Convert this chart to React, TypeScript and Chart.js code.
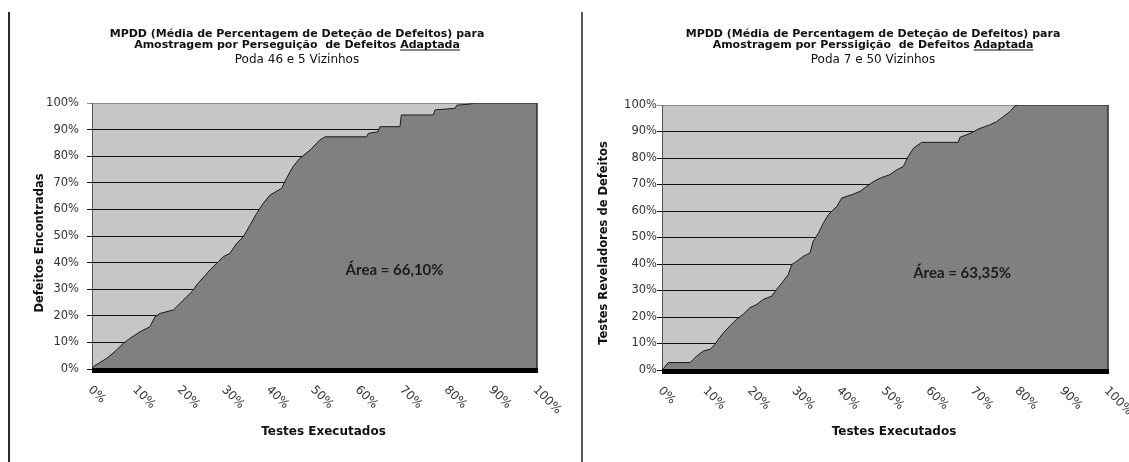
import { useEffect, useRef } from "react";
import { Chart, registerables } from "chart.js";

Chart.register(...registerables);

// Axis ticks (percent)
const xTicks = [0, 10, 20, 30, 40, 50, 60, 70, 80, 90, 100];
const yTicks = [0, 10, 20, 30, 40, 50, 60, 70, 80, 90, 100];

// Cumulative detection curve, Poda 46 e 5 Vizinhos
const leftX = [0, 0.3, 3.3, 5.5, 7, 8.5, 10.8, 13, 14.2, 15.3, 18.3, 19.8, 21.3, 22.8, 23.5, 26.5, 28, 29.5, 31, 32.5, 34, 35.5, 37, 38.5, 40, 42.6, 43.7, 45.2, 46.7, 49, 51.2, 52.4, 61.7, 62.1, 64.3, 64.7, 69.2, 69.5, 76.7, 77.1, 81.6, 82, 85, 85.7, 100];
const leftY = [0, 0.9, 4, 7.1, 9.6, 11.5, 14, 15.9, 19.7, 20.9, 22.2, 24.7, 27.2, 29.7, 31.6, 37.2, 39.7, 42.2, 43.5, 47.2, 49.7, 54.1, 58.5, 62.3, 65.4, 67.9, 71.7, 76.1, 79.2, 82.3, 86.1, 87.3, 87.3, 88.6, 89.2, 91.1, 91.1, 95.5, 95.5, 97.4, 98, 99.2, 99.6, 100, 100];

// Cumulative detection curve, Poda 7 e 50 Vizinhos
const rightX = [0, 0.3, 1.4, 6.3, 7, 7.8, 9.3, 10.8, 11.9, 12.6, 13.8, 15.2, 16.7, 18.2, 19.7, 21.2, 22.7, 24.6, 25.7, 27.2, 28.3, 29.1, 30.2, 31.7, 33.2, 33.9, 35.1, 36.2, 37.3, 38.4, 39.2, 40.3, 42.5, 44.4, 45.9, 47.4, 48.9, 51.1, 52.6, 54.1, 55.2, 56.4, 58.2, 66.4, 66.8, 69.1, 71.3, 73.5, 75, 76.5, 78, 79.1, 79.9, 100];
const rightY = [0, 0.5, 2.8, 2.8, 4, 5.3, 7.2, 7.8, 9.7, 11.5, 14.1, 16.6, 19.1, 21, 23.5, 24.7, 26.6, 27.9, 30.4, 33.5, 36, 39.8, 41, 42.9, 44.2, 48.6, 51.7, 55.5, 58.6, 60.5, 61.7, 64.9, 66.1, 67.4, 69.3, 71.1, 72.4, 73.7, 75.5, 76.8, 80.6, 83.7, 85.9, 85.9, 87.8, 89.3, 91.2, 92.5, 93.7, 95.6, 97.5, 99.6, 100, 100];

// Area under each curve, as printed
const leftArea = "66,10%";
const rightArea = "63,35%";

type PanelProps = {
  xs: number[];
  ys: number[];
  width: number;
  left: number;
  titleLine1: string;
  titleLine2: string;
  titleUnderlined: string;
  subtitle: string;
  yTitle: string;
  xTitle: string;
  areaText: string;
  areaAt: [number, number];
  yAxisWidth: number;
  padRight: number;
  padTop: number;
  xAxisHeight: number;
  yPad: number;
  yTitleX: number;
  titleX: number;
};

const HEIGHT = 462;
const SANS = '"DejaVu Sans", sans-serif';

function AreaPanel(p: PanelProps) {
  const ref = useRef<HTMLCanvasElement | null>(null);

  useEffect(() => {
    const canvas = ref.current;
    if (!canvas) return;

    const decor = {
      id: "decor",
      beforeDraw(chart: Chart) {
        const { ctx, chartArea: a } = chart;
        ctx.save();
        ctx.fillStyle = "#c6c6c6";
        ctx.fillRect(a.left, a.top, a.right - a.left, a.bottom - a.top);
        ctx.restore();
      },
      afterDraw(chart: Chart) {
        const { ctx, chartArea: a } = chart;
        const xs = chart.scales.x;
        const ys = chart.scales.y;
        ctx.save();

        // right border of the plot
        ctx.strokeStyle = "#2e2e2e";
        ctx.lineWidth = 1.5;
        ctx.beginPath();
        ctx.moveTo(a.right, a.top);
        ctx.lineTo(a.right, a.bottom);
        ctx.stroke();

        // heavy floor under the area
        ctx.fillStyle = "#000";
        ctx.fillRect(a.left, a.bottom - 1, a.right - a.left + 1, 5);

        // slanted x tick labels
        ctx.fillStyle = "#333";
        ctx.font = `12px ${SANS}`;
        ctx.textAlign = "left";
        ctx.textBaseline = "middle";
        for (const v of xTicks) {
          const px = xs.getPixelForValue(v);
          ctx.save();
          ctx.translate(px - 2, a.bottom + 19);
          ctx.rotate(Math.PI / 4);
          ctx.fillText(`${v}%`, 0, 0);
          ctx.restore();
        }

        // x axis title
        ctx.fillStyle = "#111";
        ctx.font = `bold 12px ${SANS}`;
        ctx.textAlign = "center";
        ctx.textBaseline = "middle";
        ctx.fillText(p.xTitle, (a.left + a.right) / 2 + 9, 432);

        // y axis title
        ctx.save();
        ctx.translate(p.yTitleX, 243);
        ctx.rotate(-Math.PI / 2);
        ctx.font = `bold 11.5px ${SANS}`;
        ctx.fillText(p.yTitle, 0, 0);
        ctx.restore();

        // chart title
        ctx.textBaseline = "alphabetic";
        ctx.font = `bold 11px ${SANS}`;
        ctx.fillText(p.titleLine1, p.titleX, 37);
        const prefix = p.titleLine2 + " ";
        const wPre = ctx.measureText(prefix).width;
        const wWord = ctx.measureText(p.titleUnderlined).width;
        const start = p.titleX - (wPre + wWord) / 2;
        ctx.textAlign = "left";
        ctx.fillText(prefix, start, 47.5);
        ctx.fillText(p.titleUnderlined, start + wPre, 47.5);
        ctx.fillRect(start + wPre, 49.5, wWord, 1);

        ctx.textAlign = "center";
        ctx.font = `12px ${SANS}`;
        ctx.fillText(p.subtitle, p.titleX, 62.5);

        // area annotation
        ctx.font = 'bold 15px Lato, "Open Sans", sans-serif';
        ctx.fillStyle = "#1c1c1c";
        ctx.textBaseline = "middle";
        ctx.fillText(
          `Área = ${p.areaText}`,
          xs.getPixelForValue(p.areaAt[0]),
          ys.getPixelForValue(p.areaAt[1])
        );
        ctx.restore();
      },
    };

    const chart = new Chart(canvas, {
      type: "line",
      data: {
        datasets: [
          {
            data: p.xs.map((x, i) => ({ x, y: p.ys[i] })),
            borderColor: "#1a1a1a",
            borderWidth: 1,
            backgroundColor: "#808080",
            fill: "origin",
            pointRadius: 0,
            tension: 0,
          },
        ],
      },
      options: {
        animation: false,
        responsive: false,
        maintainAspectRatio: false,
        layout: { padding: { left: 0, right: p.padRight, top: p.padTop, bottom: 0 } },
        plugins: {
          legend: { display: false },
          tooltip: { enabled: false },
          title: { display: false },
        },
        scales: {
          x: {
            type: "linear",
            min: 0,
            max: 100,
            grid: { display: false },
            border: { display: false },
            ticks: { display: false },
            afterBuildTicks: (s: any) => {
              s.ticks = xTicks.map((v) => ({ value: v }));
            },
            afterFit: (s: any) => {
              s.height = p.xAxisHeight;
            },
          },
          y: {
            type: "linear",
            min: 0,
            max: 100,
            afterBuildTicks: (s: any) => {
              s.ticks = yTicks.map((v) => ({ value: v }));
            },
            ticks: {
              callback: (v: any) => `${v}%`,
              padding: p.yPad,
              color: "#333",
              font: { family: SANS, size: 11.5 },
            },
            grid: {
              color: (c: any) => (c.tick && c.tick.value === 100 ? "#8c8c8c" : "#111"),
              lineWidth: 1,
              tickLength: 5,
              drawTicks: true,
            },
            border: { display: true, color: "#555", width: 1 },
            afterFit: (s: any) => {
              s.width = p.yAxisWidth;
            },
          },
        },
      },
      plugins: [decor],
    } as any);

    return () => chart.destroy();
  }, [p]);

  return (
    <canvas
      ref={ref}
      width={p.width}
      height={HEIGHT}
      style={{ position: "absolute", left: p.left, top: 0, width: p.width, height: HEIGHT }}
    />
  );
}

const leftPanel: PanelProps = {
  xs: leftX,
  ys: leftY,
  width: 570,
  left: 10,
  titleLine1: "MPDD (Média de Percentagem de Deteção de Defeitos) para",
  titleLine2: "Amostragem por Perseguição  de Defeitos",
  titleUnderlined: "Adaptada",
  subtitle: "Poda 46 e 5 Vizinhos",
  yTitle: "Defeitos Encontradas",
  xTitle: "Testes Executados",
  areaText: leftArea,
  areaAt: [68, 37],
  yAxisWidth: 82,
  padRight: 43,
  padTop: 103,
  xAxisHeight: 93,
  yPad: 8,
  yTitleX: 30,
  titleX: 287,
};

const rightPanel: PanelProps = {
  xs: rightX,
  ys: rightY,
  width: 545,
  left: 584,
  titleLine1: "MPDD (Média de Percentagem de Deteção de Defeitos) para",
  titleLine2: "Amostragem por Perssigição  de Defeitos",
  titleUnderlined: "Adaptada",
  subtitle: "Poda 7 e 50 Vizinhos",
  yTitle: "Testes Reveladores de Defeitos",
  xTitle: "Testes Executados",
  areaText: rightArea,
  areaAt: [67.3, 36.6],
  yAxisWidth: 78,
  padRight: 21,
  padTop: 105,
  xAxisHeight: 92,
  yPad: 0,
  yTitleX: 20,
  titleX: 289,
};

export default function App() {
  return (
    <div
      style={{
        position: "fixed",
        left: 0,
        top: 0,
        width: 1129,
        height: 462,
        background: "#fff",
        overflow: "hidden",
      }}
    >
      <div style={{ position: "absolute", left: 8, top: 12, width: 2, height: 450, background: "#2b2b2b" }} />
      <div style={{ position: "absolute", left: 581, top: 12, width: 2, height: 450, background: "#5a5a5a" }} />
      <AreaPanel {...leftPanel} />
      <AreaPanel {...rightPanel} />
    </div>
  );
}
